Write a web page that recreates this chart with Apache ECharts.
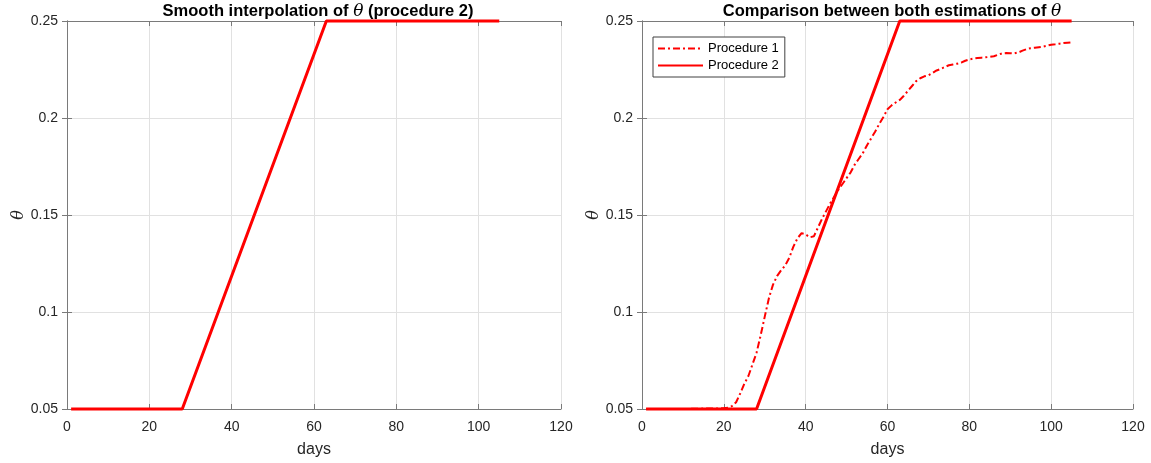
<!DOCTYPE html>
<html>
<head>
<meta charset="utf-8">
<script src="https://cdn.jsdelivr.net/npm/echarts@6/dist/echarts.min.js"></script>
<style>
  html, body { margin: 0; padding: 0; background: #fff; }
  #chart { width: 1151px; height: 463px; }
</style>
</head>
<body>
<div id="chart"></div>
<script>
// Procedure 2: piecewise-linear smooth interpolation of theta
const p2Days  = [1, 28, 63, 105];
const p2Theta = [0.05, 0.05, 0.25, 0.25];

// Procedure 1: daily estimate of theta
const p1Days = [1, 5, 10, 15, 19, 20, 21, 22, 23, 24, 25, 26, 27, 28, 29, 30,
  31, 32, 33, 34, 35, 36, 37, 38, 39, 40, 41, 42, 43, 44, 45, 46, 47, 48, 49, 50,
  51, 52, 53, 54, 55, 56, 57, 58, 59, 60, 61, 62, 63, 64, 65, 66, 67, 68, 69, 70,
  71, 72, 73, 74, 75, 76, 77, 78, 79, 80, 81, 82, 83, 84, 85, 86, 87, 88, 89, 90,
  91, 92, 93, 94, 95, 96, 97, 98, 99, 100, 101, 102, 103, 104, 105];
const p1Theta = [0.05, 0.05, 0.05, 0.0502, 0.0503, 0.0504, 0.0507, 0.0515, 0.0535, 0.058, 0.063, 0.067, 0.073, 0.079, 0.088, 0.0976,
  0.107, 0.114, 0.1185, 0.1215, 0.124, 0.128, 0.1337, 0.138, 0.1406, 0.140, 0.1385, 0.139, 0.1435, 0.148, 0.152, 0.156, 0.1595, 0.163, 0.166, 0.169,
  0.172, 0.176, 0.179, 0.182, 0.186, 0.1895, 0.193, 0.197, 0.2005, 0.2045, 0.2065, 0.208, 0.2093, 0.2115, 0.214, 0.2165, 0.219, 0.2205, 0.2215, 0.222,
  0.2232, 0.2245, 0.2253, 0.2263, 0.2272, 0.2276, 0.228, 0.2285, 0.2295, 0.2302, 0.2306, 0.2309, 0.2311, 0.2313, 0.2315, 0.2318, 0.2326, 0.2333, 0.2335, 0.2334,
  0.2333, 0.2338, 0.2347, 0.2355, 0.236, 0.2362, 0.2365, 0.2368, 0.2373, 0.2378, 0.238, 0.2383, 0.2386, 0.2388, 0.239];

// Axis ticks
const xTicks = [0, 20, 40, 60, 80, 100, 120];
const yTicks = [0.05, 0.1, 0.15, 0.2, 0.25];

const titles = ['Smooth interpolation of {t|θ} (procedure 2)', 'Comparison between both estimations of {t|θ}'];
const seriesNames = ['Procedure 1', 'Procedure 2'];

const FONT = '"Liberation Sans", Arial, Helvetica, sans-serif';
const SERIF = '"DejaVu Serif", "Liberation Serif", serif';
const TXT = '#262626';
const BOX = '#7a7a7a';
const GRID = '#e1e1e1';
const RED = '#ff0000';

const pairs = (xs, ys) => xs.map((x, i) => [x, ys[i]]);

const grids = [
  { left: 67, right: 590, top: 21, bottom: 54 },
  { left: 642, right: 18, top: 21, bottom: 54 }
];

function xAxes(gi) {
  const base = {
    gridIndex: gi, type: 'value',
    min: xTicks[0], max: xTicks[xTicks.length - 1], interval: xTicks[1] - xTicks[0],
    axisLine: { show: true, lineStyle: { color: BOX, width: 1 } },
    axisTick: { show: true, inside: true, length: 5, lineStyle: { color: BOX } }
  };
  return [
    Object.assign({}, base, {
      position: 'bottom',
      name: 'days', nameLocation: 'middle', nameGap: 33,
      nameTextStyle: { fontFamily: FONT, fontSize: 16, color: TXT },
      axisLabel: { fontFamily: FONT, fontSize: 14, color: TXT, margin: 11 },
      splitLine: { show: true, lineStyle: { color: GRID, width: 1 } }
    }),
    Object.assign({}, base, {
      position: 'top',
      axisLabel: { show: false },
      splitLine: { show: false }
    })
  ];
}

function yAxes(gi) {
  const base = {
    gridIndex: gi, type: 'value',
    min: yTicks[0], max: yTicks[yTicks.length - 1], interval: 0.05,
    axisLine: { show: true, lineStyle: { color: BOX, width: 1 } },
    axisTick: { show: true, inside: true, length: 5, lineStyle: { color: BOX } }
  };
  return [
    Object.assign({}, base, {
      position: 'left',
      name: 'θ', nameLocation: 'middle', nameGap: 38, nameRotate: 90,
      nameTextStyle: { fontFamily: SERIF, fontStyle: 'italic', fontSize: 16, color: TXT },
      axisLabel: { fontFamily: FONT, fontSize: 14, color: TXT, margin: 9,
        formatter: v => String(+v.toFixed(2)) },
      splitLine: { show: true, lineStyle: { color: GRID, width: 1 } }
    }),
    Object.assign({}, base, {
      position: 'right',
      axisLabel: { show: false },
      splitLine: { show: false }
    })
  ];
}

const titleStyle = {
  fontFamily: FONT, fontSize: 16.5, fontWeight: 'bold', color: '#000',
  rich: { t: { fontFamily: SERIF, fontStyle: 'italic', fontWeight: 'normal', fontSize: 17, color: '#000' } }
};

const option = {
  animation: false,
  backgroundColor: '#fff',
  title: [
    { text: titles[0], left: 313, top: -2, textAlign: 'center', textStyle: titleStyle },
    { text: titles[1], left: 887, top: -2, textAlign: 'center', textStyle: titleStyle }
  ],
  legend: {
    data: seriesNames,
    left: 653, top: 37,
    orient: 'vertical',
    backgroundColor: '#fff',
    borderColor: '#404040', borderWidth: 1,
    padding: [5, 6, 5, 4],
    itemGap: 4,
    itemWidth: 45, itemHeight: 12,
    itemStyle: { opacity: 0 },
    textStyle: { fontFamily: FONT, fontSize: 13, color: '#000' }
  },
  grid: grids,
  xAxis: [...xAxes(0), ...xAxes(1)],
  yAxis: [...yAxes(0), ...yAxes(1)],
  series: [
    {
      name: 'smooth', type: 'line', xAxisIndex: 0, yAxisIndex: 0,
      data: pairs(p2Days, p2Theta), symbol: 'none', clip: false,
      lineStyle: { color: RED, width: 3 }, itemStyle: { color: RED }
    },
    {
      name: seriesNames[0], type: 'line', xAxisIndex: 2, yAxisIndex: 2,
      data: pairs(p1Days, p1Theta), symbol: 'none', clip: false,
      lineStyle: { color: RED, width: 2, type: [7, 3, 2, 3] }, itemStyle: { color: RED }
    },
    {
      name: seriesNames[1], type: 'line', xAxisIndex: 2, yAxisIndex: 2,
      data: pairs(p2Days, p2Theta), symbol: 'none', clip: false,
      lineStyle: { color: RED, width: 3 }, itemStyle: { color: RED }
    }
  ]
};

const chart = echarts.init(document.getElementById('chart'), null, { renderer: 'canvas' });
chart.setOption(option);
</script>
</body>
</html>
